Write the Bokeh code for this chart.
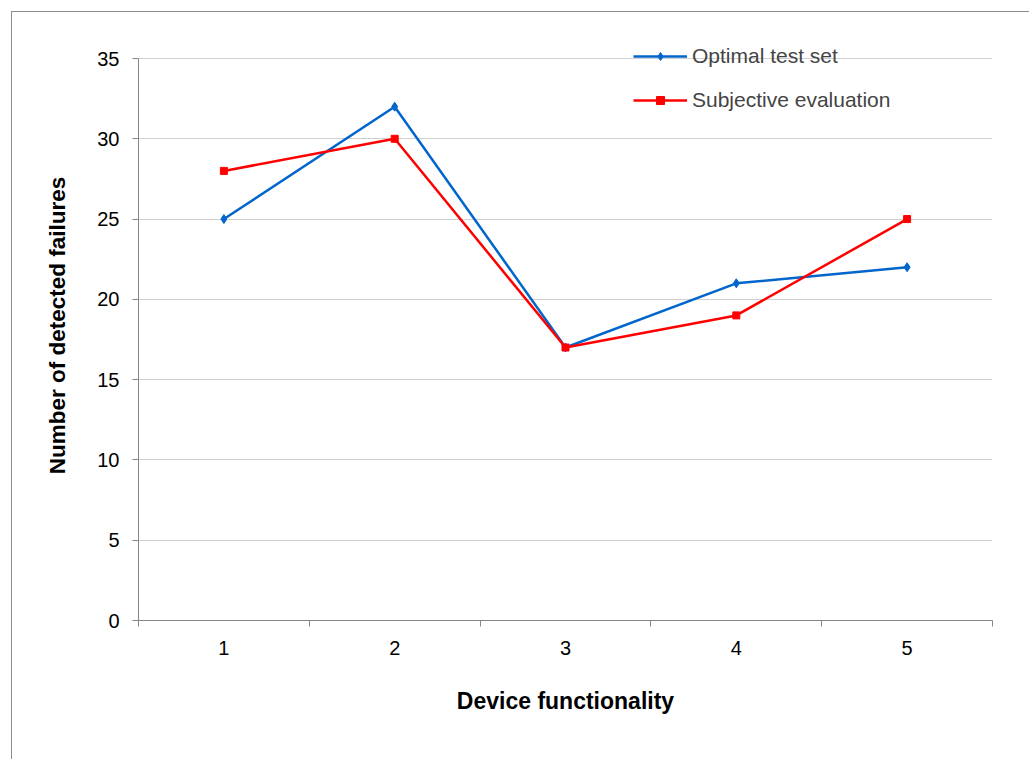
from bokeh.plotting import figure
from bokeh.models import FixedTicker, Legend, LegendItem, Range1d
from bokeh.embed import file_html
from bokeh.resources import INLINE

categories = ["1", "2", "3", "4", "5"]
optimal = [25, 32, 17, 21, 22]
subjective = [28, 30, 17, 19, 25]
y_ticks = [0, 5, 10, 15, 20, 25, 30, 35]

FONT = "Liberation Sans"
AXIS_COL = "#868686"
GRID_COL = "#d0d0d0"
BLUE = "#0066cc"
RED = "#ff0000"

xs = list(range(1, len(categories) + 1))

# frame extends a little above the 35 line so the legend fits (as in the reference)
FRAME_H = 590
Y_TOP = 35 * FRAME_H / 562

p = figure(width=1018, height=748, output_backend="svg", toolbar_location=None,
           x_range=Range1d(0.5, len(categories) + 0.5), y_range=Range1d(0, Y_TOP),
           min_border_left=126, min_border_top=18, min_border_right=38,
           min_border_bottom=140)
p.styles = {"position": "absolute", "left": "11px", "top": "11px",
            "border-left": "1px solid #8c8c8c", "border-top": "1px solid #8c8c8c"}
p.outline_line_color = None
p.background_fill_color = "white"
p.border_fill_color = "white"

# x axis
p.xaxis.ticker = FixedTicker(ticks=xs, minor_ticks=[i + 0.5 for i in range(0, len(categories) + 1)])
p.xaxis.major_label_overrides = {x: c for x, c in zip(xs, categories)}
p.xaxis.major_tick_out = 0
p.xaxis.major_tick_in = 0
p.xaxis.minor_tick_out = 6
p.xaxis.minor_tick_in = 0
p.xaxis.minor_tick_line_color = AXIS_COL
p.xaxis.axis_line_color = AXIS_COL
p.xaxis.major_label_standoff = 14
p.xaxis.major_label_text_font = FONT
p.xaxis.major_label_text_font_size = "20px"
p.xaxis.major_label_text_color = "black"
p.xaxis.axis_label = "Device functionality"
p.xaxis.axis_label_text_font = FONT
p.xaxis.axis_label_text_font_size = "23px"
p.xaxis.axis_label_text_font_style = "bold"
p.xaxis.axis_label_text_color = "black"
p.xaxis.axis_label_standoff = 30

# y axis
p.yaxis.ticker = FixedTicker(ticks=y_ticks, minor_ticks=[])
p.yaxis.bounds = (0, 35)
p.yaxis.major_tick_out = 6
p.yaxis.major_tick_in = 0
p.yaxis.major_tick_line_color = AXIS_COL
p.yaxis.axis_line_color = AXIS_COL
p.yaxis.major_label_standoff = 13
p.yaxis.major_label_text_font = FONT
p.yaxis.major_label_text_font_size = "20px"
p.yaxis.major_label_text_color = "black"
p.yaxis.axis_label = "Number of detected failures"
p.yaxis.axis_label_text_font = FONT
p.yaxis.axis_label_text_font_size = "22.5px"
p.yaxis.axis_label_text_font_style = "bold"
p.yaxis.axis_label_text_color = "black"
p.yaxis.axis_label_standoff = 24

p.xgrid.grid_line_color = None
p.ygrid.grid_line_color = GRID_COL
p.ygrid.grid_line_width = 1

l1 = p.line(xs, optimal, line_color=BLUE, line_width=2.5)
m1 = p.scatter(xs, optimal, marker="diamond", size=9, fill_color=BLUE, line_color=BLUE)
l2 = p.line(xs, subjective, line_color=RED, line_width=2.5)
m2 = p.scatter(xs, subjective, marker="square", size=7, fill_color=RED, line_color=RED)

legend = Legend(items=[LegendItem(label="Optimal test set", renderers=[l1, m1]),
                       LegendItem(label="Subjective evaluation", renderers=[l2, m2])],
                location=(495, 508), orientation="vertical",
                glyph_width=54, glyph_height=20, label_height=20, spacing=20,
                label_standoff=5, padding=0, margin=0,
                label_text_font=FONT, label_text_font_size="21px",
                border_line_color=None, background_fill_alpha=0)
p.add_layout(legend, "center")

open("out.html", "w").write(file_html(p, INLINE))
